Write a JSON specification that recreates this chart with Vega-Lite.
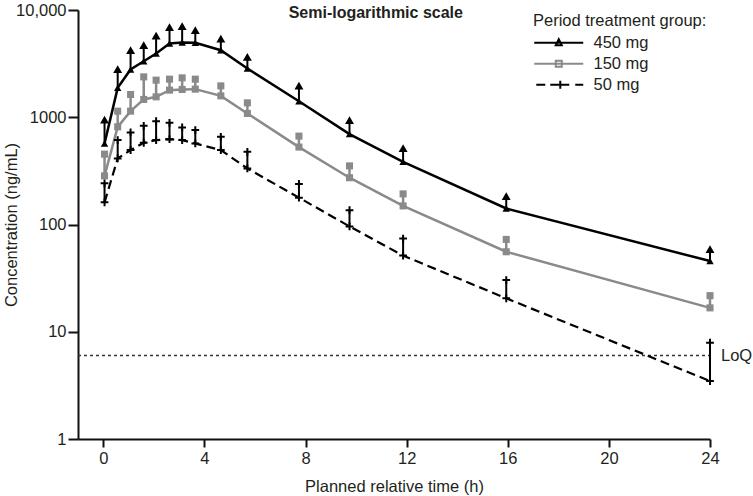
{
  "$schema": "https://vega.github.io/schema/vega-lite/v6.json",
  "width": 632,
  "height": 429,
  "autosize": {"type": "none"},
  "padding": {"left": 78, "top": 10, "right": 43, "bottom": 57},
  "config": {
    "font": "Liberation Sans",
    "view": {"stroke": null},
    "axis": {
      "grid": false,
      "domainColor": "#111",
      "domainWidth": 2,
      "tickColor": "#111",
      "tickWidth": 2,
      "labelFontSize": 16.5,
      "labelColor": "#231f20",
      "titleFontSize": 16.5,
      "titleFontWeight": "normal",
      "titleColor": "#231f20"
    },
    "legend": {
      "orient": "none",
      "legendX": 455,
      "legendY": 3,
      "padding": 0,
      "titleFontSize": 16.5,
      "titleFontWeight": "normal",
      "titleColor": "#231f20",
      "labelFontSize": 16.5,
      "labelColor": "#231f20",
      "titlePadding": 5,
      "rowPadding": 4
    }
  },
  "data": {
    "values": [
      {"group": "450 mg", "t": 0.05, "mean": 570, "upper": 950},
      {"group": "450 mg", "t": 0.57, "mean": 1880, "upper": 2810},
      {"group": "450 mg", "t": 1.08, "mean": 2790, "upper": 4220},
      {"group": "450 mg", "t": 1.6, "mean": 3330, "upper": 4700},
      {"group": "450 mg", "t": 2.09, "mean": 3930, "upper": 5760},
      {"group": "450 mg", "t": 2.62, "mean": 4880, "upper": 6920},
      {"group": "450 mg", "t": 3.12, "mean": 4980, "upper": 7060},
      {"group": "450 mg", "t": 3.64, "mean": 4950, "upper": 6490},
      {"group": "450 mg", "t": 4.65, "mean": 4220, "upper": 5400},
      {"group": "450 mg", "t": 5.7, "mean": 2850, "upper": 3650},
      {"group": "450 mg", "t": 7.74, "mean": 1410, "upper": 1970},
      {"group": "450 mg", "t": 9.74, "mean": 696, "upper": 940},
      {"group": "450 mg", "t": 11.86, "mean": 384, "upper": 515},
      {"group": "450 mg", "t": 15.94, "mean": 141, "upper": 184},
      {"group": "450 mg", "t": 24, "mean": 45.6, "upper": 59},
      {"group": "150 mg", "t": 0.05, "mean": 284, "upper": 453},
      {"group": "150 mg", "t": 0.57, "mean": 814, "upper": 1140},
      {"group": "150 mg", "t": 1.08, "mean": 1140, "upper": 1630},
      {"group": "150 mg", "t": 1.6, "mean": 1466, "upper": 2380},
      {"group": "150 mg", "t": 2.09, "mean": 1550, "upper": 2218},
      {"group": "150 mg", "t": 2.62, "mean": 1790, "upper": 2265},
      {"group": "150 mg", "t": 3.12, "mean": 1816, "upper": 2330},
      {"group": "150 mg", "t": 3.64, "mean": 1828, "upper": 2265},
      {"group": "150 mg", "t": 4.65, "mean": 1583, "upper": 1962},
      {"group": "150 mg", "t": 5.7, "mean": 1085, "upper": 1362},
      {"group": "150 mg", "t": 7.74, "mean": 527, "upper": 667},
      {"group": "150 mg", "t": 9.74, "mean": 273, "upper": 352},
      {"group": "150 mg", "t": 11.86, "mean": 149, "upper": 193},
      {"group": "150 mg", "t": 15.94, "mean": 55.7, "upper": 72.6},
      {"group": "150 mg", "t": 24, "mean": 16.7, "upper": 21.7},
      {"group": "50 mg", "t": 0.05, "mean": 161, "upper": 242},
      {"group": "50 mg", "t": 0.57, "mean": 413, "upper": 612},
      {"group": "50 mg", "t": 1.08, "mean": 494, "upper": 722},
      {"group": "50 mg", "t": 1.6, "mean": 577, "upper": 831},
      {"group": "50 mg", "t": 2.09, "mean": 612, "upper": 920},
      {"group": "50 mg", "t": 2.62, "mean": 625, "upper": 887},
      {"group": "50 mg", "t": 3.12, "mean": 612, "upper": 804},
      {"group": "50 mg", "t": 3.64, "mean": 570, "upper": 759},
      {"group": "50 mg", "t": 4.65, "mean": 494, "upper": 657},
      {"group": "50 mg", "t": 5.7, "mean": 333, "upper": 476},
      {"group": "50 mg", "t": 7.74, "mean": 178, "upper": 239},
      {"group": "50 mg", "t": 9.74, "mean": 96, "upper": 136},
      {"group": "50 mg", "t": 11.86, "mean": 51.3, "upper": 74},
      {"group": "50 mg", "t": 15.94, "mean": 20.5, "upper": 30.3},
      {"group": "50 mg", "t": 24, "mean": 3.47, "upper": 7.9}
    ]
  },
  "encoding": {
    "x": {
      "field": "t",
      "type": "quantitative",
      "scale": {"domain": [-1, 24], "nice": false, "zero": false},
      "axis": {
        "title": "Planned relative time (h)",
        "values": [0, 4, 8, 12, 16, 20, 24],
        "tickSize": 8,
        "labelPadding": 3,
        "titlePadding": 12,
        "labelFlush": false
      }
    },
    "y": {
      "field": "mean",
      "type": "quantitative",
      "scale": {"type": "log", "domain": [1, 10000], "nice": false},
      "axis": {
        "title": "Concentration (ng/mL)",
        "values": [1, 10, 100, 1000, 10000],
        "labelExpr": "datum.value == 10000 ? '10,000' : format(datum.value, 'd')",
        "tickSize": 10,
        "labelPadding": 2,
        "titlePadding": -4
      }
    }
  },
  "layer": [
    {
      "transform": [{"filter": "datum.group == '450 mg' && datum.t < 0.1"}],
      "mark": {"type": "rule", "strokeDash": [3, 3], "color": "#333", "strokeWidth": 1.5},
      "encoding": {"x": {"datum": -1}, "x2": {"datum": 24}, "y": {"datum": 6}}
    },
    {
      "transform": [{"filter": "datum.group == '450 mg' && datum.t < 0.1"}],
      "mark": {"type": "text", "text": "LoQ", "align": "left", "baseline": "middle", "dx": 11, "fontSize": 16.5, "color": "#231f20"},
      "encoding": {"x": {"datum": 24}, "y": {"datum": 6}}
    },
    {
      "transform": [{"filter": "datum.group == '450 mg' && datum.t < 0.1"}],
      "mark": {"type": "text", "text": "Semi-logarithmic scale", "align": "center", "baseline": "middle", "dy": 3, "fontSize": 16, "fontWeight": "bold", "color": "#231f20"},
      "encoding": {"x": {"datum": 10.78}, "y": {"datum": 10000}}
    },
    {
      "transform": [{"filter": "datum.group == '450 mg'"}],
      "mark": {"type": "line", "color": "#000", "strokeWidth": 2.5}
    },
    {
      "transform": [{"filter": "datum.group == '150 mg'"}],
      "mark": {"type": "line", "color": "#8a8a8a", "strokeWidth": 2.5}
    },
    {
      "transform": [{"filter": "datum.group == '50 mg'"}],
      "mark": {"type": "line", "color": "#000", "strokeWidth": 2.2, "strokeDash": [9, 5]}
    },
    {
      "transform": [{"filter": "datum.group == '450 mg'"}],
      "mark": {"type": "rule", "color": "#000", "strokeWidth": 2},
      "encoding": {"y2": {"field": "upper"}}
    },
    {
      "transform": [{"filter": "datum.group == '150 mg'"}],
      "mark": {"type": "rule", "color": "#8a8a8a", "strokeWidth": 2.5},
      "encoding": {"y2": {"field": "upper"}}
    },
    {
      "transform": [{"filter": "datum.group == '50 mg'"}],
      "mark": {"type": "rule", "color": "#000", "strokeWidth": 2},
      "encoding": {"y2": {"field": "upper"}}
    },
    {
      "transform": [{"filter": "datum.group == '450 mg'"}],
      "mark": {"type": "point", "shape": "triangle-up", "filled": true, "color": "#000", "size": 80, "opacity": 1},
      "encoding": {"y": {"field": "upper", "type": "quantitative"}}
    },
    {
      "transform": [{"filter": "datum.group == '450 mg'"}],
      "mark": {"type": "point", "shape": "triangle-up", "filled": true, "color": "#000", "size": 55, "opacity": 1}
    },
    {
      "transform": [{"filter": "datum.group == '150 mg'"}],
      "mark": {"type": "point", "shape": "square", "filled": true, "color": "#8a8a8a", "size": 50, "opacity": 1},
      "encoding": {"y": {"field": "upper", "type": "quantitative"}}
    },
    {
      "transform": [{"filter": "datum.group == '150 mg'"}],
      "mark": {"type": "point", "shape": "square", "filled": true, "color": "#8a8a8a", "size": 50, "opacity": 1}
    },
    {
      "transform": [{"filter": "datum.group == '50 mg'"}],
      "mark": {"type": "point", "shape": "M-1,0H1M0,-1V1", "filled": false, "color": "#000", "strokeWidth": 2, "size": 60, "opacity": 1},
      "encoding": {"y": {"field": "upper", "type": "quantitative"}}
    },
    {
      "transform": [{"filter": "datum.group == '50 mg'"}],
      "mark": {"type": "point", "shape": "M-1,0H1M0,-1V1", "filled": false, "color": "#000", "strokeWidth": 2, "size": 60, "opacity": 1}
    },
    {
      "transform": [{"filter": "datum.t < 0.1"}],
      "mark": {"type": "point", "filled": false, "clip": true, "strokeWidth": 2, "size": 144, "opacity": 1},
      "encoding": {
        "x": {"datum": 40},
        "color": {
          "field": "group",
          "type": "nominal",
          "title": "Period treatment group:",
          "scale": {"domain": ["450 mg", "150 mg", "50 mg"], "range": ["#000000", "#8a8a8a", "#000000"]},
          "legend": {
            "symbolSize": 144,
            "symbolStrokeWidth": 2,
            "labelOffset": 44,
            "labelExpr": "datum.label == '50 mg' ? '\u2004' + datum.label : datum.label",
            "encode": {"symbols": {"update": {"fill": {"signal": "datum.value === '150 mg' ? '#8a8a8a' : '#000000'"}}}}
          }
        },
        "shape": {
          "field": "group",
          "type": "nominal",
          "title": "Period treatment group:",
          "scale": {
            "domain": ["450 mg", "150 mg", "50 mg"],
            "range": [
              "M-1.17,0H7M2.92,-0.58L3.42,0.42H2.42Z",
              "M-1.17,0H7M2.42,-0.5H3.42V0.5H2.42Z",
              "M-0.83,0H0.67M1.5,0H4.67M3.17,-0.67V0.67M5.67,0H7"
            ]
          }
        }
      }
    }
  ]
}
